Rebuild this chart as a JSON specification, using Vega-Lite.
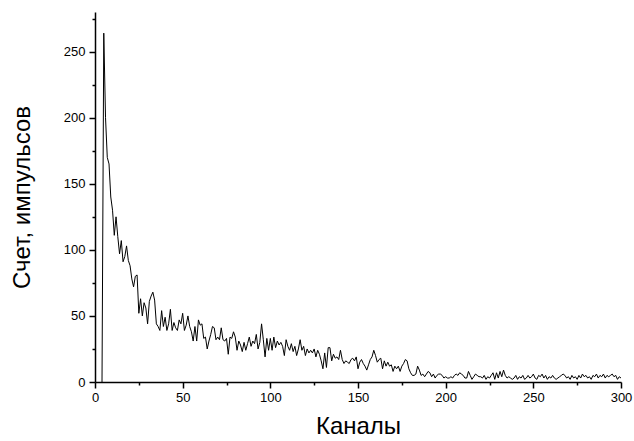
{
  "$schema": "https://vega.github.io/schema/vega-lite/v6.json",
  "width": 526,
  "height": 370,
  "autosize": {"type": "none"},
  "padding": {"left": 95, "top": 12, "right": 13, "bottom": 59},
  "config": {
    "view": {"stroke": null},
    "font": "Liberation Sans",
    "axis": {
      "grid": false,
      "domainColor": "black",
      "domainWidth": 1.5,
      "tickColor": "black",
      "tickWidth": 1.5,
      "labelColor": "black",
      "titleColor": "black",
      "labelFont": "Liberation Sans",
      "titleFont": "Liberation Sans",
      "labelFontSize": 13,
      "titleFontSize": 24,
      "titleFontWeight": "normal"
    }
  },
  "data": {
    "values": [
      {"ch":4,"count":0},{"ch":5,"count":264},{"ch":6,"count":200},{"ch":7,"count":170},{"ch":8,"count":165},{"ch":9,"count":140},{"ch":10,"count":130},{"ch":11,"count":111},{"ch":12,"count":125},{"ch":13,"count":110},{"ch":14,"count":97},{"ch":15,"count":107},{"ch":16,"count":91},{"ch":17,"count":95},{"ch":18,"count":103},{"ch":19,"count":92},{"ch":20,"count":88},{"ch":21,"count":78},{"ch":22,"count":72},{"ch":23,"count":80},{"ch":24,"count":81},{"ch":25,"count":52},{"ch":26,"count":63},{"ch":27,"count":50},{"ch":28,"count":60},{"ch":29,"count":56},{"ch":30,"count":44},{"ch":31,"count":61},{"ch":32,"count":65},{"ch":33,"count":68},{"ch":34,"count":62},{"ch":35,"count":44},{"ch":36,"count":42},{"ch":37,"count":39},{"ch":38,"count":54},{"ch":39,"count":42},{"ch":40,"count":49},
      {"ch":41,"count":39},{"ch":42,"count":44},{"ch":43,"count":55},{"ch":44,"count":39},{"ch":45,"count":45},{"ch":46,"count":41},{"ch":47,"count":39},{"ch":48,"count":47},{"ch":49,"count":44},{"ch":50,"count":52},{"ch":51,"count":39},{"ch":52,"count":43},{"ch":53,"count":50},{"ch":54,"count":42},{"ch":55,"count":38},{"ch":56,"count":31},{"ch":57,"count":42},{"ch":58,"count":31},{"ch":59,"count":47},{"ch":60,"count":43},{"ch":61,"count":44},{"ch":62,"count":33},{"ch":63,"count":34},{"ch":64,"count":25},{"ch":65,"count":31},{"ch":66,"count":36},{"ch":67,"count":42},{"ch":68,"count":41},{"ch":69,"count":32},{"ch":70,"count":34},{"ch":71,"count":32},{"ch":72,"count":41},{"ch":73,"count":32},{"ch":74,"count":31},{"ch":75,"count":33},{"ch":76,"count":21},{"ch":77,"count":34},{"ch":78,"count":33},{"ch":79,"count":38},{"ch":80,"count":34},
      {"ch":81,"count":24},{"ch":82,"count":31},{"ch":83,"count":28},{"ch":84,"count":23},{"ch":85,"count":30},{"ch":86,"count":24},{"ch":87,"count":29},{"ch":88,"count":34},{"ch":89,"count":27},{"ch":90,"count":31},{"ch":91,"count":29},{"ch":92,"count":36},{"ch":93,"count":25},{"ch":94,"count":30},{"ch":95,"count":44},{"ch":96,"count":32},{"ch":97,"count":19},{"ch":98,"count":33},{"ch":99,"count":24},{"ch":100,"count":33},{"ch":101,"count":24},{"ch":102,"count":34},{"ch":103,"count":26},{"ch":104,"count":31},{"ch":105,"count":28},{"ch":106,"count":30},{"ch":107,"count":27},{"ch":108,"count":20},{"ch":109,"count":32},{"ch":110,"count":27},{"ch":111,"count":24},{"ch":112,"count":29},{"ch":113,"count":23},{"ch":114,"count":27},{"ch":115,"count":20},{"ch":116,"count":25},{"ch":117,"count":32},{"ch":118,"count":24},{"ch":119,"count":27},{"ch":120,"count":20},
      {"ch":121,"count":25},{"ch":122,"count":22},{"ch":123,"count":24},{"ch":124,"count":22},{"ch":125,"count":25},{"ch":126,"count":19},{"ch":127,"count":24},{"ch":128,"count":21},{"ch":129,"count":16},{"ch":130,"count":10},{"ch":131,"count":22},{"ch":132,"count":11},{"ch":133,"count":26},{"ch":134,"count":26},{"ch":135,"count":16},{"ch":136,"count":21},{"ch":137,"count":18},{"ch":138,"count":19},{"ch":139,"count":17},{"ch":140,"count":24},{"ch":141,"count":17},{"ch":142,"count":14},{"ch":143,"count":16},{"ch":144,"count":15},{"ch":145,"count":14},{"ch":146,"count":17},{"ch":147,"count":18},{"ch":148,"count":16},{"ch":149,"count":19},{"ch":150,"count":10},{"ch":151,"count":15},{"ch":152,"count":17},{"ch":153,"count":14},{"ch":154,"count":12},{"ch":155,"count":9},{"ch":156,"count":13},{"ch":157,"count":17},{"ch":158,"count":19},{"ch":159,"count":24},{"ch":160,"count":20},
      {"ch":161,"count":15},{"ch":162,"count":17},{"ch":163,"count":18},{"ch":164,"count":10},{"ch":165,"count":16},{"ch":166,"count":12},{"ch":167,"count":15},{"ch":168,"count":12},{"ch":169,"count":13},{"ch":170,"count":8},{"ch":171,"count":12},{"ch":172,"count":10},{"ch":173,"count":12},{"ch":174,"count":8},{"ch":175,"count":12},{"ch":176,"count":14},{"ch":177,"count":17},{"ch":178,"count":16},{"ch":179,"count":10},{"ch":180,"count":7},{"ch":181,"count":5},{"ch":182,"count":5},{"ch":183,"count":6},{"ch":184,"count":12},{"ch":185,"count":9},{"ch":186,"count":5},{"ch":187,"count":6},{"ch":188,"count":4},{"ch":189,"count":6},{"ch":190,"count":8},{"ch":191,"count":7},{"ch":192,"count":4},{"ch":193,"count":6},{"ch":194,"count":3},{"ch":195,"count":5},{"ch":196,"count":6},{"ch":197,"count":6},{"ch":198,"count":5},{"ch":199,"count":3},{"ch":200,"count":4},
      {"ch":201,"count":3},{"ch":202,"count":3},{"ch":203,"count":4},{"ch":204,"count":3},{"ch":205,"count":5},{"ch":206,"count":6},{"ch":207,"count":5},{"ch":208,"count":7},{"ch":209,"count":6},{"ch":210,"count":5},{"ch":211,"count":3},{"ch":212,"count":3},{"ch":213,"count":8},{"ch":214,"count":5},{"ch":215,"count":2},{"ch":216,"count":4},{"ch":217,"count":6},{"ch":218,"count":5},{"ch":219,"count":4},{"ch":220,"count":4},{"ch":221,"count":3},{"ch":222,"count":5},{"ch":223,"count":2},{"ch":224,"count":4},{"ch":225,"count":3},{"ch":226,"count":5},{"ch":227,"count":7},{"ch":228,"count":2},{"ch":229,"count":7},{"ch":230,"count":3},{"ch":231,"count":8},{"ch":232,"count":4},{"ch":233,"count":9},{"ch":234,"count":5},{"ch":235,"count":3},{"ch":236,"count":4},{"ch":237,"count":3},{"ch":238,"count":2},{"ch":239,"count":3},{"ch":240,"count":5},
      {"ch":241,"count":2},{"ch":242,"count":4},{"ch":243,"count":3},{"ch":244,"count":5},{"ch":245,"count":2},{"ch":246,"count":3},{"ch":247,"count":5},{"ch":248,"count":3},{"ch":249,"count":4},{"ch":250,"count":6},{"ch":251,"count":3},{"ch":252,"count":2},{"ch":253,"count":5},{"ch":254,"count":4},{"ch":255,"count":6},{"ch":256,"count":3},{"ch":257,"count":5},{"ch":258,"count":2},{"ch":259,"count":4},{"ch":260,"count":3},{"ch":261,"count":5},{"ch":262,"count":3},{"ch":263,"count":2},{"ch":264,"count":3},{"ch":265,"count":4},{"ch":266,"count":5},{"ch":267,"count":6},{"ch":268,"count":5},{"ch":269,"count":3},{"ch":270,"count":4},{"ch":271,"count":2},{"ch":272,"count":5},{"ch":273,"count":3},{"ch":274,"count":4},{"ch":275,"count":2},{"ch":276,"count":5},{"ch":277,"count":3},{"ch":278,"count":6},{"ch":279,"count":4},{"ch":280,"count":5},
      {"ch":281,"count":3},{"ch":282,"count":4},{"ch":283,"count":2},{"ch":284,"count":5},{"ch":285,"count":4},{"ch":286,"count":6},{"ch":287,"count":3},{"ch":288,"count":5},{"ch":289,"count":4},{"ch":290,"count":6},{"ch":291,"count":3},{"ch":292,"count":5},{"ch":293,"count":4},{"ch":294,"count":5},{"ch":295,"count":6},{"ch":296,"count":4},{"ch":297,"count":5},{"ch":298,"count":2},{"ch":299,"count":4},{"ch":300,"count":3}
    ]
  },
  "mark": {"type": "line", "color": "black", "strokeWidth": 1, "interpolate": "linear"},
  "encoding": {
    "x": {
      "field": "ch",
      "type": "quantitative",
      "scale": {"domain": [0, 300], "nice": false, "zero": false},
      "axis": {
        "title": "Каналы",
        "values": [0,25,50,75,100,125,150,175,200,225,250,275,300],
        "labelExpr": "datum.value % 50 === 0 ? datum.label : ''",
        "tickSize": {"condition": {"test": "datum.value % 50 === 0", "value": 6}, "value": 3},
        "labelPadding": 3,
        "titlePadding": 10,
        "labelFlush": false
      }
    },
    "y": {
      "field": "count",
      "type": "quantitative",
      "scale": {"domain": [0, 280], "nice": false},
      "axis": {
        "title": "Счет, импульсов",
        "values": [0,25,50,75,100,125,150,175,200,225,250,275],
        "labelExpr": "datum.value % 50 === 0 ? datum.label : ''",
        "tickSize": {"condition": {"test": "datum.value % 50 === 0", "value": 6}, "value": 3},
        "labelPadding": 4,
        "titlePadding": 29
      }
    }
  }
}
